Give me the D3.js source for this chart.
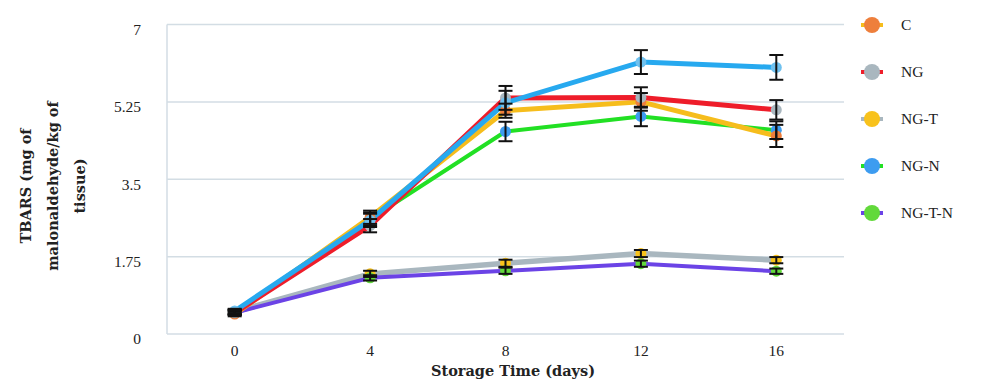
<!DOCTYPE html>
<html><head><meta charset="utf-8">
<script src="https://cdn.jsdelivr.net/npm/d3@7"></script>
<style>body{margin:0;background:#fff}svg{display:block}</style>
</head><body><svg id="c" width="1000" height="387"></svg>
<script>
const days = ["0", "4", "8", "12", "16"];
const yTicks = [0, 1.75, 3.5, 5.25, 7];
const seriesNames = ["C", "NG", "NG-T", "NG-N", "NG-T-N", ""];
const valuesC = [0.45, 2.64, 5.05, 5.25, 4.48];
const errC = [0.05, 0.15, 0.16, 0.2, 0.25];
const valuesNG = [0.48, 2.45, 5.34, 5.35, 5.07];
const errNG = [0.05, 0.15, 0.27, 0.23, 0.22];
const valuesNGT = [0.5, 1.36, 1.6, 1.82, 1.67];
const errNGT = [0.05, 0.07, 0.08, 0.08, 0.07];
const valuesNGN = [0.5, 2.6, 4.58, 4.92, 4.61];
const errNGN = [0.05, 0.15, 0.22, 0.22, 0.2];
const valuesNGTN = [0.48, 1.27, 1.43, 1.59, 1.42];
const errNGTN = [0.05, 0.06, 0.07, 0.07, 0.06];
const valuesExtra = [0.52, 2.57, 5.23, 6.15, 6.03];
const errExtra = [0.05, 0.15, 0.27, 0.27, 0.28];

const lineColors = ["#f6bd1c", "#ee1d2a", "#a9b7bf", "#22e024", "#6b43e6", "#27a9ef"];
const markerColors = ["#ee7f3c", "#a9b7bf", "#f8c21c", "#3d9cf0", "#62d93b", "#6fc1ef"];
const lineWidths = [5, 5, 5.5, 4, 4, 5];

const series = [
  {name: seriesNames[0], v: valuesC, e: errC},
  {name: seriesNames[1], v: valuesNG, e: errNG},
  {name: seriesNames[2], v: valuesNGT, e: errNGT},
  {name: seriesNames[3], v: valuesNGN, e: errNGN},
  {name: seriesNames[4], v: valuesNGTN, e: errNGTN},
  {name: seriesNames[5], v: valuesExtra, e: errExtra}
].map((s, i) => Object.assign(s, {i}));

const svg = d3.select("#c");
const serif = "'Liberation Serif', 'DejaVu Serif', serif";
const titleFont = "'DejaVu Serif', serif";
const x = d3.scaleBand().domain(days).range([167, 844]);
const xc = d => x(d) + x.bandwidth() / 2;
const y = d3.scaleLinear().domain([0, 7]).range([334, 24.5]);
const axisCol = "#d3dde4";

// gridlines
svg.append("g").selectAll("line").data(yTicks.filter(t => t > 0)).join("line")
  .attr("x1", 167).attr("x2", 844).attr("y1", d => y(d)).attr("y2", d => y(d))
  .attr("stroke", axisCol).attr("stroke-width", 1.5);
svg.append("line").attr("x1", 167).attr("x2", 167).attr("y1", y(7)).attr("y2", y(0))
  .attr("stroke", axisCol).attr("stroke-width", 1.5);
svg.append("line").attr("x1", 167).attr("x2", 844).attr("y1", y(0)).attr("y2", y(0))
  .attr("stroke", axisCol).attr("stroke-width", 1.5);

// y axis labels
const ya = svg.append("g").attr("transform", "translate(141,5)")
  .call(d3.axisLeft(y).tickValues(yTicks).tickFormat(d => d).tickSize(0).tickPadding(0));
ya.select(".domain").remove();
ya.selectAll("text").attr("font-family", serif).attr("font-size", 15.5).attr("fill", "#222");

// x axis labels
const xa = svg.append("g").attr("transform", `translate(0,${y(0)})`)
  .call(d3.axisBottom(x).tickSize(0).tickPadding(11));
xa.select(".domain").remove();
xa.selectAll("text").attr("font-family", serif).attr("font-size", 15.5).attr("fill", "#222");

// titles
svg.append("text").attr("x", 513).attr("y", 376).attr("text-anchor", "middle")
  .attr("font-family", titleFont).attr("font-weight", "bold").attr("font-size", 14.5).attr("fill", "#222")
  .text("Storage Time (days)");
const yt = svg.append("text").attr("transform", "translate(51,186) rotate(-90)")
  .attr("text-anchor", "middle").attr("font-family", titleFont).attr("font-weight", "bold")
  .attr("font-size", 14.5).attr("fill", "#222");
["TBARS (mg of", "malonaldehyde/kg of", "tissue)"].forEach((t, i) =>
  yt.append("tspan").attr("x", 0).attr("dy", i === 0 ? -20 : 27).text(t));

// lines
const line = d3.line().x((d, j) => xc(days[j])).y(d => y(d));
const order = [2, 4, 3, 0, 1, 5];
const g = svg.append("g");
order.forEach(i => {
  const s = series[i];
  g.append("path").attr("d", line(s.v)).attr("fill", "none")
    .attr("stroke", lineColors[i]).attr("stroke-width", lineWidths[i])
    .attr("stroke-linejoin", "round").attr("stroke-linecap", "round");
});
order.forEach(i => {
  const s = series[i];
  g.append("g").selectAll("circle").data(s.v).join("circle")
    .attr("cx", (d, j) => xc(days[j])).attr("cy", d => y(d)).attr("r", 5.5)
    .attr("fill", markerColors[i]);
});
// error bars
order.forEach(i => {
  const s = series[i];
  const eg = g.append("g").attr("stroke", "#111").attr("stroke-width", 2);
  s.v.forEach((v, j) => {
    const cx = xc(days[j]);
    const lo = y(v - s.e[j]), hi = y(v + s.e[j]);
    eg.append("line").attr("x1", cx).attr("x2", cx).attr("y1", lo).attr("y2", hi);
    eg.append("line").attr("x1", cx - 7).attr("x2", cx + 7).attr("y1", lo).attr("y2", lo);
    eg.append("line").attr("x1", cx - 7).attr("x2", cx + 7).attr("y1", hi).attr("y2", hi);
  });
});

// legend
const leg = svg.append("g");
series.slice(0, 5).forEach((s, i) => {
  const ly = 25 + i * 47;
  leg.append("line").attr("x1", 861).attr("x2", 883).attr("y1", ly).attr("y2", ly)
    .attr("stroke", lineColors[i]).attr("stroke-width", 4);
  leg.append("circle").attr("cx", 872).attr("cy", ly).attr("r", 8).attr("fill", markerColors[i]);
  leg.append("text").attr("x", 901).attr("y", ly + 5).attr("font-family", serif)
    .attr("font-size", 15.5).attr("fill", "#222").text(s.name);
});
</script></body></html>
